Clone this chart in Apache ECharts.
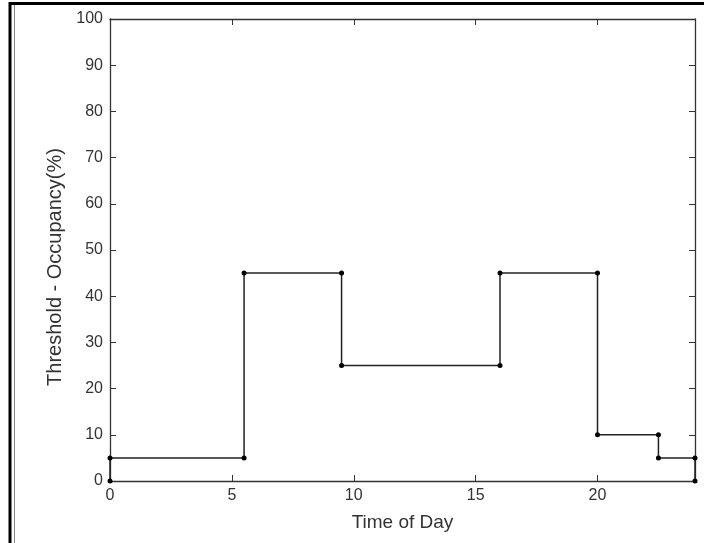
<!DOCTYPE html>
<html>
<head>
<meta charset="utf-8">
<script src="https://cdn.jsdelivr.net/npm/echarts@6/dist/echarts.min.js"></script>
<style>html,body{margin:0;padding:0;background:#fff;}#c{width:704px;height:543px;}</style>
</head>
<body>
<div id="c"></div>
<script>
var timeOfDay = [0, 0, 5.5, 5.5, 9.5, 9.5, 16, 16, 20, 20, 22.5, 22.5, 24, 24];
var threshold = [0, 5, 5, 45, 45, 25, 25, 45, 45, 10, 10, 5, 5, 0];
var xTicks = [0, 5, 10, 15, 20];
var yTicks = [0, 10, 20, 30, 40, 50, 60, 70, 80, 90, 100];
var xTitle = 'Time of Day';
var yTitle = 'Threshold - Occupancy(%)';

var chart = echarts.init(document.getElementById('c'));
var font = 'Liberation Sans, Arial, sans-serif';
var axisCol = '#333';
var pts = timeOfDay.map(function (t, i) { return [t, threshold[i]]; });

function xAx(pos, show) {
  return {
    type: 'value', position: pos, min: 0, max: 24, interval: 5,
    name: show ? xTitle : '', nameLocation: 'middle', nameGap: 32,
    nameTextStyle: { fontFamily: font, fontSize: 19, color: '#333' },
    axisLine: { show: true, onZero: false, lineStyle: { color: axisCol, width: 1.3 } },
    axisTick: { show: true, inside: true, length: 6, lineStyle: { color: axisCol } },
    axisLabel: { show: show, showMaxLabel: false, margin: 7, fontFamily: font, fontSize: 16, color: '#333',
      formatter: function (v) { return xTicks.indexOf(v) >= 0 ? String(v) : ''; } },
    splitLine: { show: false }
  };
}
function yAx(pos, show) {
  return {
    type: 'value', position: pos, min: 0, max: 100, interval: 10,
    name: show ? yTitle : '', nameLocation: 'middle', nameGap: 44,
    nameTextStyle: { fontFamily: font, fontSize: 20, color: '#333', padding: [0, 34, 0, 0] },
    axisLine: { show: true, onZero: false, lineStyle: { color: axisCol, width: 1.3 } },
    axisTick: { show: true, inside: true, length: 6, lineStyle: { color: axisCol } },
    axisLabel: { show: show, margin: 7, fontFamily: font, fontSize: 16, color: '#333',
      formatter: function (v) { return yTicks.indexOf(v) >= 0 ? String(v) : ''; } },
    splitLine: { show: false }
  };
}

chart.setOption({
  animation: false,
  backgroundColor: '#fff',
  grid: { left: 110, top: 19, right: 9, bottom: 62, containLabel: false },
  xAxis: [xAx('bottom', true), xAx('top', false)],
  yAxis: [yAx('left', true), yAx('right', false)],
  graphic: [
    { type: 'rect', shape: { x: 10, y: 3.5, width: 720, height: 600 }, style: { fill: 'none', stroke: '#000', lineWidth: 3 }, silent: true },
    { type: 'line', shape: { x1: 14.5, y1: 5, x2: 14.5, y2: 543 }, style: { stroke: '#888', lineWidth: 1 }, silent: true }
  ],
  series: [{
    type: 'line', xAxisIndex: 0, yAxisIndex: 0, data: pts,
    symbol: 'circle', symbolSize: 5,
    lineStyle: { color: '#222', width: 1.5 },
    itemStyle: { color: '#000' },
    z: 5
  }]
});
</script>
</body>
</html>
